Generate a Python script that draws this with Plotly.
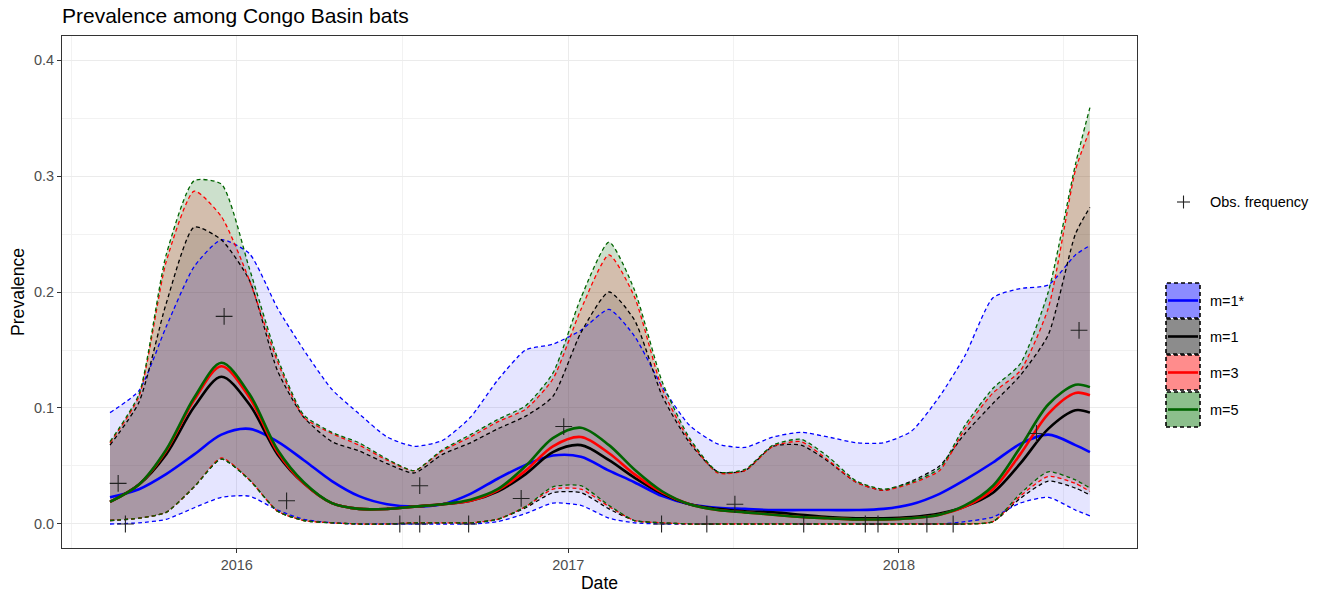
import plotly.graph_objects as go

# ---------------- data ----------------
dates = ["2015-08-14", "2015-09-15", "2015-10-15", "2015-11-15", "2015-12-15",
         "2016-01-15", "2016-02-15", "2016-03-15", "2016-04-15", "2016-05-15", "2016-06-15",
         "2016-07-15", "2016-08-15", "2016-09-15", "2016-10-15", "2016-11-15", "2016-12-15",
         "2017-01-15", "2017-02-15", "2017-03-15", "2017-04-15", "2017-05-15", "2017-06-15",
         "2017-07-15", "2017-08-15", "2017-09-15", "2017-10-15", "2017-11-15", "2017-12-15",
         "2018-01-15", "2018-02-15", "2018-03-15", "2018-04-15", "2018-05-15", "2018-06-15",
         "2018-07-15", "2018-07-31"]

# m=1*
m1s_mean = [0.023, 0.030, 0.043, 0.060, 0.077, 0.082, 0.071, 0.055, 0.037, 0.024, 0.017,
            0.015, 0.017, 0.026, 0.039, 0.051, 0.059, 0.058, 0.046, 0.036, 0.024, 0.017,
            0.014, 0.013, 0.012, 0.012, 0.012, 0.012, 0.013, 0.017, 0.026, 0.038, 0.053,
            0.069, 0.077, 0.068, 0.062]
m1s_low = [0.000, 0.001, 0.004, 0.014, 0.023, 0.024, 0.012, 0.004, 0.001, 0.000, 0.000,
           0.000, 0.000, 0.000, 0.002, 0.009, 0.018, 0.016, 0.005, 0.001, 0.000, 0.000,
           0.000, 0.000, 0.000, 0.000, 0.000, 0.000, 0.000, 0.000, 0.000, 0.002, 0.006,
           0.018, 0.023, 0.012, 0.007]
m1s_up = [0.096, 0.115, 0.170, 0.222, 0.245, 0.233, 0.186, 0.150, 0.116, 0.095, 0.075,
          0.067, 0.072, 0.092, 0.124, 0.150, 0.155, 0.167, 0.185, 0.162, 0.118, 0.085,
          0.069, 0.066, 0.075, 0.079, 0.075, 0.070, 0.070, 0.080, 0.110, 0.145, 0.195,
          0.203, 0.206, 0.232, 0.240]

# m=1
m1_mean = [0.019, 0.034, 0.060, 0.101, 0.127, 0.103, 0.060, 0.035, 0.018, 0.013, 0.013,
           0.015, 0.017, 0.020, 0.028, 0.043, 0.062, 0.068, 0.055, 0.040, 0.026, 0.017,
           0.013, 0.011, 0.010, 0.008, 0.006, 0.005, 0.005, 0.006, 0.009, 0.015, 0.027,
           0.052, 0.082, 0.098, 0.096]
m1_low = [0.003, 0.005, 0.010, 0.032, 0.056, 0.038, 0.011, 0.003, 0.001, 0.000, 0.000,
          0.001, 0.001, 0.001, 0.004, 0.014, 0.027, 0.027, 0.013, 0.003, 0.001, 0.000,
          0.000, 0.000, 0.000, 0.000, 0.000, 0.000, 0.000, 0.000, 0.000, 0.000, 0.002,
          0.022, 0.037, 0.031, 0.025]
m1_up = [0.068, 0.105, 0.190, 0.256, 0.245, 0.210, 0.132, 0.092, 0.071, 0.063, 0.052,
         0.044, 0.060, 0.070, 0.082, 0.093, 0.110, 0.165, 0.200, 0.176, 0.110, 0.070,
         0.045, 0.046, 0.067, 0.068, 0.054, 0.036, 0.029, 0.037, 0.050, 0.078, 0.104,
         0.128, 0.163, 0.250, 0.273]

# m=3
m3_mean = [0.019, 0.034, 0.063, 0.107, 0.136, 0.109, 0.062, 0.035, 0.018, 0.013, 0.013,
           0.015, 0.017, 0.020, 0.029, 0.046, 0.067, 0.075, 0.061, 0.043, 0.027, 0.017,
           0.012, 0.010, 0.008, 0.006, 0.005, 0.004, 0.004, 0.005, 0.008, 0.015, 0.030,
           0.060, 0.095, 0.113, 0.111]
m3_low = [0.003, 0.005, 0.010, 0.032, 0.057, 0.038, 0.011, 0.003, 0.001, 0.000, 0.000,
          0.001, 0.001, 0.001, 0.004, 0.015, 0.030, 0.030, 0.015, 0.003, 0.001, 0.000,
          0.000, 0.000, 0.000, 0.000, 0.000, 0.000, 0.000, 0.000, 0.000, 0.000, 0.002,
          0.024, 0.041, 0.035, 0.028]
m3_up = [0.070, 0.110, 0.226, 0.287, 0.265, 0.210, 0.140, 0.092, 0.078, 0.068, 0.055,
         0.046, 0.063, 0.075, 0.088, 0.099, 0.125, 0.185, 0.232, 0.196, 0.116, 0.072,
         0.044, 0.046, 0.067, 0.071, 0.055, 0.036, 0.029, 0.035, 0.046, 0.082, 0.113,
         0.132, 0.186, 0.305, 0.340]

# m=5
m5_mean = [0.019, 0.034, 0.064, 0.109, 0.139, 0.112, 0.064, 0.036, 0.018, 0.013, 0.013,
           0.015, 0.017, 0.021, 0.030, 0.050, 0.074, 0.083, 0.068, 0.047, 0.028, 0.017,
           0.012, 0.010, 0.008, 0.006, 0.005, 0.004, 0.004, 0.005, 0.008, 0.016, 0.033,
           0.066, 0.103, 0.120, 0.118]
m5_low = [0.003, 0.005, 0.010, 0.032, 0.056, 0.038, 0.011, 0.003, 0.001, 0.000, 0.000,
          0.001, 0.001, 0.001, 0.004, 0.015, 0.032, 0.033, 0.016, 0.003, 0.001, 0.000,
          0.000, 0.000, 0.000, 0.000, 0.000, 0.000, 0.000, 0.000, 0.000, 0.000, 0.002,
          0.026, 0.045, 0.038, 0.031]
m5_up = [0.071, 0.112, 0.232, 0.296, 0.293, 0.220, 0.143, 0.094, 0.079, 0.070, 0.056,
         0.046, 0.064, 0.077, 0.090, 0.102, 0.130, 0.195, 0.243, 0.202, 0.122, 0.074,
         0.045, 0.047, 0.068, 0.073, 0.058, 0.037, 0.030, 0.036, 0.048, 0.085, 0.117,
         0.138, 0.200, 0.310, 0.359]

obs_dates = ["2015-08-23", "2015-08-31", "2015-12-18", "2016-02-25", "2016-06-29",
             "2016-07-21", "2016-07-21", "2016-09-13", "2016-11-10", "2016-12-27",
             "2017-04-14", "2017-06-03", "2017-07-04", "2017-09-18", "2017-11-25",
             "2017-12-09", "2018-02-01", "2018-03-02", "2018-06-02", "2018-07-19"]
obs_freq = [0.035, 0.0, 0.179, 0.020, 0.0, 0.033, 0.0, 0.0, 0.022, 0.084,
            0.0, 0.0, 0.017, 0.0, 0.0, 0.0, 0.0, 0.0, 0.078, 0.167]

model_names = ["m=1*", "m=1", "m=3", "m=5"]
x_tick_vals = ["2016-01-01", "2017-01-01", "2018-01-01"]
x_tick_text = ["2016", "2017", "2018"]
y_tick_vals = [0.0, 0.1, 0.2, 0.3, 0.4]

# ---------------- styling ----------------
line_colors = {"m=1*": "#0000FF", "m=1": "#000000", "m=3": "#FF0000", "m=5": "#006400"}
fill_colors = {"m=1*": "rgba(0,0,255,0.10)", "m=1": "rgba(0,0,0,0.10)",
               "m=3": "rgba(255,0,0,0.15)", "m=5": "rgba(0,100,0,0.20)"}
key_colors = {"m=1*": "#8C8CFF", "m=1": "#8C8C8C", "m=3": "#FF8C8C", "m=5": "#8CBF8C"}

series = {
    "m=1*": (m1s_low, m1s_mean, m1s_up),
    "m=1": (m1_low, m1_mean, m1_up),
    "m=3": (m3_low, m3_mean, m3_up),
    "m=5": (m5_low, m5_mean, m5_up),
}

FONT = "Liberation Sans, Arial, sans-serif"
SM = 0.6
SM_MEAN = 0.9
fig = go.Figure()

# ribbons (fills)
for name in ["m=5", "m=3", "m=1", "m=1*"]:
    lo, mu, up = series[name]
    fig.add_trace(go.Scatter(x=dates, y=lo, mode="lines", line=dict(width=0, shape="spline", smoothing=SM),
                             showlegend=False, hoverinfo="skip"))
    fig.add_trace(go.Scatter(x=dates, y=up, mode="lines", line=dict(width=0, shape="spline", smoothing=SM),
                             fill="tonexty", fillcolor=fill_colors[name],
                             showlegend=False, hoverinfo="skip"))

# dashed bounds
for name in model_names:
    lo, mu, up = series[name]
    for b in (lo, up):
        fig.add_trace(go.Scatter(x=dates, y=b, mode="lines",
                                 line=dict(color=line_colors[name], width=1.3, dash="4px,3px",
                                           shape="spline", smoothing=SM),
                                 showlegend=False, name=name))

# means
for name in model_names:
    lo, mu, up = series[name]
    fig.add_trace(go.Scatter(x=dates, y=mu, mode="lines",
                             line=dict(color=line_colors[name], width=2.6, shape="spline", smoothing=SM_MEAN),
                             showlegend=False, name=name))

# observations
fig.add_trace(go.Scatter(x=obs_dates, y=obs_freq, mode="markers",
                         marker=dict(symbol="cross-thin-open", size=12, color="#222222",
                                     line=dict(color="#222222", width=1.1)),
                         showlegend=False, name="Obs. frequency"))

# ---------------- layout geometry ----------------
W, H = 1323, 594
# plot-area edges in page pixels
L, R, T, B = 62, 1137, 36, 548


def px(xp):
    return (xp - L) / (R - L)


def py(yp):
    return (B - yp) / (B - T)


shapes = []
annotations = []
# Obs. frequency key
shapes.append(dict(type="line", xref="paper", yref="paper",
                   x0=px(1177), x1=px(1190), y0=py(202), y1=py(202),
                   line=dict(color="#222222", width=1.1)))
shapes.append(dict(type="line", xref="paper", yref="paper",
                   x0=px(1183.5), x1=px(1183.5), y0=py(195.5), y1=py(208.5),
                   line=dict(color="#222222", width=1.1)))
annotations.append(dict(xref="paper", yref="paper", x=px(1208), y=py(202),
                        text="Obs. frequency", showarrow=False, xanchor="left", yanchor="middle",
                        font=dict(family=FONT, size=14.5, color="#000000")))

key_tops = [283, 319, 355, 392]
for name, top in zip(model_names, key_tops):
    bot = top + 35
    shapes.append(dict(type="rect", xref="paper", yref="paper",
                       x0=px(1166), x1=px(1200), y0=py(bot), y1=py(top),
                       fillcolor=key_colors[name],
                       line=dict(color="#000000", width=1.6, dash="4px,3px")))
    shapes.append(dict(type="line", xref="paper", yref="paper",
                       x0=px(1168), x1=px(1198), y0=py(top + 17.5), y1=py(top + 17.5),
                       line=dict(color=line_colors[name], width=2.6)))
    annotations.append(dict(xref="paper", yref="paper", x=px(1208), y=py(top + 17.5),
                            text=name, showarrow=False, xanchor="left", yanchor="middle",
                            font=dict(family=FONT, size=14.5, color="#000000")))

fig.update_layout(
    width=W, height=H,
    margin=dict(l=L, r=W - R, t=T, b=H - B, autoexpand=False),
    paper_bgcolor="white", plot_bgcolor="white",
    font=dict(family=FONT, size=14.5, color="#4D4D4D"),
    title=dict(text="Prevalence among Congo Basin bats", x=0, xanchor="left",
               xref="paper", y=1 - 16 / H, yanchor="middle", yref="container",
               automargin=False,
               font=dict(family=FONT, size=21, color="#000000")),
    showlegend=False,
    shapes=shapes,
    annotations=annotations,
    xaxis=dict(
        type="date",
        range=["2015-06-22", "2018-09-21"],
        tickvals=x_tick_vals, ticktext=x_tick_text,
        ticks="outside", ticklen=4, tickcolor="#333333", tickwidth=1,
        showgrid=True, gridcolor="#EBEBEB", gridwidth=1.1,
        minor=dict(tickvals=["2015-07-02", "2016-07-02", "2017-07-02", "2018-07-02"],
                   showgrid=True, gridcolor="#F2F2F2", gridwidth=0.6, ticks=""),
        showline=True, linecolor="#333333", linewidth=1, mirror=True,
        zeroline=False, automargin=False,
        tickfont=dict(family=FONT, size=14.5, color="#4D4D4D"),
        title=dict(text="Date", font=dict(family=FONT, size=17.6, color="#000000"), standoff=2),
    ),
    yaxis=dict(
        range=[-0.0207, 0.4207],
        tickvals=y_tick_vals, tickformat=".1f",
        ticks="outside", ticklen=4, tickcolor="#333333", tickwidth=1,
        showgrid=True, gridcolor="#EBEBEB", gridwidth=1.1,
        minor=dict(tickvals=[0.05, 0.15, 0.25, 0.35],
                   showgrid=True, gridcolor="#F2F2F2", gridwidth=0.6, ticks=""),
        showline=True, linecolor="#333333", linewidth=1, mirror=True,
        zeroline=False, automargin=False,
        tickfont=dict(family=FONT, size=14.5, color="#4D4D4D"),
        title=dict(text="Prevalence", font=dict(family=FONT, size=17.6, color="#000000"), standoff=4),
    ),
)

fig.write_html("out.html", config={"displayModeBar": False},
               post_script="document.body.style.margin='0px';")
